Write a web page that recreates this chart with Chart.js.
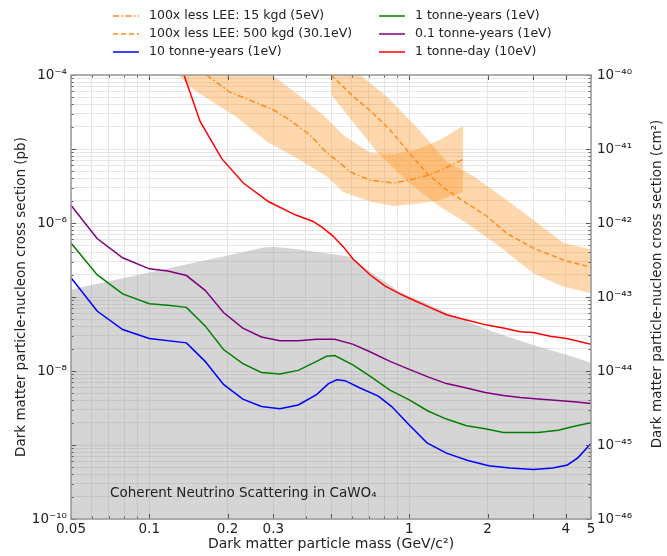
<!DOCTYPE html>
<html>
<head>
<meta charset="utf-8">
<script src="https://cdn.jsdelivr.net/npm/chart.js@4.4.1/dist/chart.umd.min.js"></script>
<style>
  html, body { margin: 0; padding: 0; background: #fff; }
</style>
</head>
<body>
<canvas id="chart" width="667" height="556"></canvas>
<script>
// masses in GeV/c^2, cross sections in pb (1 pb = 1e-36 cm^2)
const massBlue  = [0.05, 0.063, 0.079, 0.1, 0.139, 0.164, 0.193, 0.229, 0.27, 0.318, 0.374, 0.44, 0.489, 0.526, 0.566, 0.647, 0.76, 0.856, 1.0, 1.17, 1.39, 1.68, 2.02, 2.44, 3.01, 3.56, 4.06, 4.46, 5.0];
const xsecBlue  = [1.82e-7, 6.46e-8, 3.63e-8, 2.75e-8, 2.40e-8, 1.35e-8, 6.6e-9, 4.17e-9, 3.31e-9, 3.09e-9, 3.47e-9, 4.79e-9, 6.76e-9, 7.59e-9, 7.41e-9, 5.89e-9, 4.57e-9, 3.31e-9, 1.86e-9, 1.07e-9, 7.76e-10, 6.17e-10, 5.25e-10, 4.90e-10, 4.68e-10, 4.90e-10, 5.37e-10, 6.76e-10, 1.05e-9];

const massGreen = [0.05, 0.063, 0.079, 0.1, 0.118, 0.139, 0.164, 0.193, 0.229, 0.27, 0.318, 0.374, 0.44, 0.481, 0.517, 0.609, 0.706, 0.843, 1.0, 1.18, 1.39, 1.66, 1.96, 2.3, 2.67, 3.13, 3.74, 4.4, 5.0];
const xsecGreen = [5.37e-7, 2.0e-7, 1.10e-7, 8.13e-8, 7.76e-8, 7.24e-8, 4.07e-8, 1.95e-8, 1.26e-8, 9.55e-9, 9.12e-9, 1.02e-8, 1.35e-8, 1.58e-8, 1.62e-8, 1.20e-8, 8.51e-9, 5.5e-9, 4.07e-9, 2.88e-9, 2.24e-9, 1.82e-9, 1.66e-9, 1.48e-9, 1.48e-9, 1.48e-9, 1.58e-9, 1.82e-9, 2.0e-9];

const massPurple = [0.05, 0.063, 0.079, 0.1, 0.118, 0.139, 0.164, 0.193, 0.229, 0.27, 0.318, 0.374, 0.44, 0.517, 0.609, 0.706, 0.843, 1.0, 1.18, 1.39, 1.66, 1.96, 2.3, 2.67, 3.13, 3.74, 4.4, 5.0];
const xsecPurple = [1.74e-6, 6.17e-7, 3.39e-7, 2.40e-7, 2.24e-7, 1.95e-7, 1.23e-7, 6.17e-8, 3.80e-8, 2.88e-8, 2.57e-8, 2.57e-8, 2.69e-8, 2.69e-8, 2.29e-8, 1.82e-8, 1.35e-8, 1.05e-8, 8.32e-9, 6.76e-9, 5.89e-9, 5.13e-9, 4.68e-9, 4.37e-9, 4.17e-9, 3.98e-9, 3.80e-9, 3.63e-9];

const massRed = [0.136, 0.157, 0.19, 0.23, 0.287, 0.364, 0.427, 0.467, 0.51, 0.557, 0.609, 0.706, 0.805, 0.921, 1.05, 1.2, 1.39, 1.66, 1.99, 2.3, 2.67, 3.0, 3.48, 4.03, 5.0];
const xsecRed  = [1.0e-4, 2.34e-5, 7.41e-6, 3.47e-6, 1.95e-6, 1.29e-6, 1.05e-6, 8.51e-7, 6.61e-7, 4.79e-7, 3.24e-7, 2.0e-7, 1.41e-7, 1.10e-7, 8.91e-8, 7.24e-8, 5.75e-8, 4.90e-8, 4.17e-8, 3.80e-8, 3.39e-8, 3.31e-8, 2.95e-8, 2.75e-8, 2.29e-8];

const massLee15 = [0.166, 0.204, 0.244, 0.3, 0.348, 0.415, 0.481, 0.526, 0.592, 0.706, 0.869, 1.0, 1.2, 1.39, 1.61];
const xsecLee15 = [1.0e-4, 5.89e-5, 4.57e-5, 3.39e-5, 2.45e-5, 1.55e-5, 8.91e-6, 7.08e-6, 4.90e-6, 3.80e-6, 3.47e-6, 3.80e-6, 4.47e-6, 5.62e-6, 7.24e-6];
const massLee15Hi = [0.129, 0.296, 0.369, 0.467, 0.557, 0.706, 0.869, 1.07, 1.31, 1.61];
const xsecLee15Hi = [1.0e-4, 1.0e-4, 5.62e-5, 2.88e-5, 1.55e-5, 8.91e-6, 8.51e-6, 9.77e-6, 1.32e-5, 2.04e-5];
const massLee15Lo = [0.129, 0.148, 0.217, 0.283, 0.38, 0.481, 0.557, 0.706, 0.869, 1.07, 1.31, 1.61];
const xsecLee15Lo = [1.0e-4, 6.31e-5, 2.69e-5, 1.26e-5, 7.08e-6, 4.27e-6, 2.63e-6, 1.95e-6, 1.70e-6, 1.82e-6, 2.04e-6, 2.63e-6];

const massLee500 = [0.5, 0.609, 0.727, 0.843, 0.977, 1.17, 1.39, 1.66, 1.99, 2.37, 3.0, 3.92, 5.0];
const xsecLee500 = [1.0e-4, 5.13e-5, 3.02e-5, 1.82e-5, 9.77e-6, 4.68e-6, 2.82e-6, 1.86e-6, 1.23e-6, 7.24e-7, 4.57e-7, 3.16e-7, 2.51e-7];
const massLee500Hi = [0.502, 0.647, 0.819, 1.09, 1.39, 1.77, 2.37, 3.0, 3.92, 5.0];
const xsecLee500Hi = [1.0e-4, 1.0e-4, 5.13e-5, 1.82e-5, 6.76e-6, 4.27e-6, 2.04e-6, 1.10e-6, 5.37e-7, 4.37e-7];
const massLee500Lo = [0.502, 0.76, 1.0, 1.31, 1.66, 2.23, 3.0, 3.92, 5.0];
const xsecLee500Lo = [5.37e-5, 8.71e-6, 3.47e-6, 1.66e-6, 1.0e-6, 4.79e-7, 2.09e-7, 1.38e-7, 1.12e-7];

const massFloor = [0.05, 0.1, 0.2, 0.275, 0.3, 0.38, 0.5, 0.6, 0.706, 0.805, 0.921, 1.24, 1.57, 2.1, 3.0, 4.03, 5.0];
const xsecFloor = [1.26e-7, 2.14e-7, 3.63e-7, 4.68e-7, 4.79e-7, 4.37e-7, 3.80e-7, 3.47e-7, 2.19e-7, 1.62e-7, 1.17e-7, 7.41e-8, 5.13e-8, 3.39e-8, 2.24e-8, 1.66e-8, 1.29e-8];

const xTickLabels = [0.05, 0.1, 0.2, 0.3, 1, 2, 4, 5];
const xMajorTicks = [0.1, 0.2, 0.3, 0.5, 1, 2, 3, 4];
const yTickDecades = [-10, -8, -6, -4];
const y2TickDecades = [-46, -45, -44, -43, -42, -41, -40];

const seriesNames = ['100x less LEE: 15 kgd (5eV)', '100x less LEE: 500 kgd (30.1eV)', '10 tonne-years (1eV)', '1 tonne-years (1eV)', '0.1 tonne-years (1eV)', '1 tonne-day (10eV)'];
const noteText = 'Coherent Neutrino Scattering in CaWO\u2084';

const FONT = '"DejaVu Sans", "Liberation Sans", sans-serif';
const ORANGE = '#ff8c1a';
const BAND = 'rgba(253,150,40,0.38)';

function pts(xs, ys){ return xs.map((x,i)=>({x, y: ys[i]})); }
function band(xh, yh, xl, yl){ return pts(xh, yh).concat(pts(xl, yl).reverse()); }

const SUP = {'-':'\u207B','0':'\u2070','1':'\u00B9','2':'\u00B2','3':'\u00B3','4':'\u2074','5':'\u2075','6':'\u2076','7':'\u2077','8':'\u2078','9':'\u2079'};
function pow10(e){ return '10' + String(e).split('').map(c=>SUP[c]).join(''); }
function near(a, b){ return Math.abs(Math.log10(a) - Math.log10(b)) < 1e-6; }

// grid positions: every 1..9 x 10^n inside the range
function logGrid(lo, hi){
  const out = [];
  for(let e = Math.floor(Math.log10(lo)); e <= Math.ceil(Math.log10(hi)); e++){
    for(let m = 1; m < 10; m++){
      const v = parseFloat((m * Math.pow(10, e)).toPrecision(6));
      if(v >= lo*0.9999 && v <= hi*1.0001) out.push(v);
    }
  }
  return out;
}

function line(label, xs, ys, color, dash){
  return { label, data: pts(xs, ys), borderColor: color, backgroundColor: color, borderWidth: 1.5,
           borderDash: dash || [], pointRadius: 0, tension: 0, fill: false, order: 0 };
}

const datasets = [
  line(seriesNames[0], massLee15, xsecLee15, ORANGE, [6, 2.5, 1.5, 2.5]),
  line(seriesNames[1], massLee500, xsecLee500, ORANGE, [5, 3]),
  line(seriesNames[2], massBlue, xsecBlue, '#0000ff'),
  line(seriesNames[3], massGreen, xsecGreen, '#008000'),
  line(seriesNames[4], massPurple, xsecPurple, '#800080'),
  line(seriesNames[5], massRed, xsecRed, '#ff0000'),
  { label: 'band15', data: band(massLee15Hi, xsecLee15Hi, massLee15Lo, xsecLee15Lo), borderWidth: 0, pointRadius: 0,
    backgroundColor: BAND, fill: 'shape', order: 1 },
  { label: 'band500', data: band(massLee500Hi, xsecLee500Hi, massLee500Lo, xsecLee500Lo), borderWidth: 0, pointRadius: 0,
    backgroundColor: BAND, fill: 'shape', order: 1 },
  { label: 'floor', data: pts(massFloor, xsecFloor), borderWidth: 0, pointRadius: 0,
    backgroundColor: 'rgba(150,150,150,0.4)', fill: 'start', order: 2 }
];

const legendOrder = [[0, 1, 2], [3, 4, 5]];

const overlay = {
  id: 'overlay',
  afterDatasetsDraw(chart){
    const {ctx, chartArea: a, scales: {x, y}} = chart;
    ctx.save();
    ctx.fillStyle = '#222';
    ctx.font = '13.5px ' + FONT;
    ctx.textBaseline = 'middle';
    ctx.fillText(noteText, x.getPixelForValue(0.0707), y.getPixelForValue(2.24e-10));

    // inward tick marks
    ctx.strokeStyle = '#555';
    ctx.lineWidth = 1;
    ctx.beginPath();
    x.ticks.forEach(t=>{
      const px = Math.round(x.getPixelForValue(t.value)) + 0.5;
      const len = xMajorTicks.some(v=>near(v, t.value)) ? 5 : 2.5;
      ctx.moveTo(px, a.bottom); ctx.lineTo(px, a.bottom - len);
      ctx.moveTo(px, a.top); ctx.lineTo(px, a.top + len);
    });
    y.ticks.forEach(t=>{
      const py = Math.round(y.getPixelForValue(t.value)) + 0.5;
      const len = Number.isInteger(Math.round(Math.log10(t.value)*1e6)/1e6) ? 5 : 2.5;
      ctx.moveTo(a.left, py); ctx.lineTo(a.left + len, py);
      ctx.moveTo(a.right, py); ctx.lineTo(a.right - len, py);
    });
    ctx.stroke();

    ctx.strokeStyle = '#999';
    ctx.lineWidth = 1.5;
    ctx.strokeRect(a.left, a.top, a.right - a.left, a.bottom - a.top);
    ctx.restore();
  },
  afterDraw(chart){
    const {ctx} = chart;
    const ds = chart.data.datasets;
    ctx.save();
    ctx.font = '12.5px ' + FONT;
    ctx.textBaseline = 'middle';
    const cols = [113, 379];
    const rows = [16, 34, 52];
    legendOrder.forEach((col, ci)=>{
      col.forEach((di, ri)=>{
        const d = ds[di];
        const x0 = cols[ci], yy = rows[ri];
        ctx.strokeStyle = d.borderColor;
        ctx.lineWidth = 1.5;
        ctx.setLineDash(d.borderDash);
        ctx.beginPath(); ctx.moveTo(x0, yy); ctx.lineTo(x0 + 26, yy); ctx.stroke();
        ctx.setLineDash([]);
        ctx.fillStyle = '#222';
        ctx.fillText(d.label, x0 + 36, yy);
      });
    });
    // right axis title, reads bottom to top like the left one
    ctx.font = '13.5px ' + FONT;
    ctx.translate(657, 284);
    ctx.rotate(-Math.PI/2);
    ctx.textAlign = 'center';
    ctx.fillText('Dark matter particle-nucleon cross section (cm\u00B2)', 0, 0);
    ctx.restore();
  }
};

const tickFont = { family: FONT, size: 13.5 };

new Chart(document.getElementById('chart'), {
  type: 'line',
  data: { datasets },
  options: {
    responsive: false,
    animation: false,
    layout: { padding: { top: 75, left: 0, right: 0, bottom: 0 } },
    plugins: { legend: { display: false }, tooltip: { enabled: false } },
    scales: {
      x: {
        type: 'logarithmic', position: 'bottom', min: 0.05, max: 5,
        afterBuildTicks: s => { s.ticks = logGrid(0.05, 5).map(v=>({ value: v })); },
        afterFit: s => { s.height = 37; },
        ticks: { autoSkip: false, maxRotation: 0, padding: 2, color: '#222', font: tickFont,
                 callback: v => { const l = xTickLabels.find(t=>near(t, v)); return l !== undefined ? String(l) : ''; } },
        grid: { color: '#e6e6e6', drawTicks: false },
        border: { display: false },
        title: { display: true, text: 'Dark matter particle mass (GeV/c\u00B2)', color: '#222', font: { family: FONT, size: 14 }, padding: { top: 0, bottom: 3 } }
      },
      y: {
        type: 'logarithmic', position: 'left', min: 1e-10, max: 1e-4,
        afterBuildTicks: s => { s.ticks = logGrid(1e-10, 1e-4).map(v=>({ value: v })); },
        afterFit: s => { s.width = 71; },
        ticks: { autoSkip: false, padding: 4, color: '#222', font: tickFont,
                 callback: v => { const e = yTickDecades.find(d=>near(Math.pow(10, d), v)); return e !== undefined ? pow10(e) : ''; } },
        grid: { color: '#e6e6e6', drawTicks: false },
        border: { display: false },
        title: { display: true, text: 'Dark matter particle-nucleon cross section (pb)', color: '#222', font: { family: FONT, size: 13.5 }, padding: { top: 13, bottom: 0 } }
      },
      y2: {
        type: 'logarithmic', position: 'right', min: 1e-46, max: 1e-40,
        afterBuildTicks: s => { s.ticks = y2TickDecades.map(d=>({ value: Math.pow(10, d) })); },
        afterFit: s => { s.width = 76; },
        ticks: { autoSkip: false, padding: 6, color: '#222', font: tickFont,
                 callback: v => { const e = y2TickDecades.find(d=>near(Math.pow(10, d), v)); return e !== undefined ? pow10(e) : ''; } },
        grid: { display: false, drawTicks: false },
        border: { display: false }
      }
    }
  },
  plugins: [overlay]
});
</script>
</body>
</html>
